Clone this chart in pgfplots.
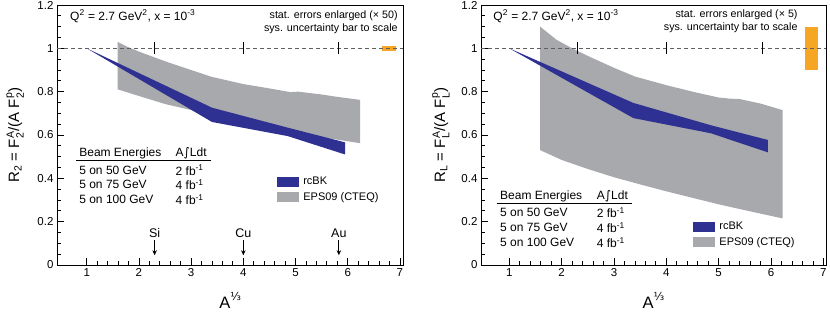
\documentclass[border=0pt]{standalone}
\usepackage{amsmath}
\usepackage{pgfplots}
\pgfplotsset{compat=1.18}
\usepackage{fontspec}
\setmainfont{Liberation Sans}
\newfontfamily\dejavu{DejaVu Sans}
\usetikzlibrary{arrows.meta}
\definecolor{rcblue}{RGB}{46,49,146}
\definecolor{bandgray}{RGB}{167,169,172}
\definecolor{orangebar}{RGB}{246,166,35}
\definecolor{dashcol}{RGB}{95,95,95}
\newcommand\fs[1]{\fontsize{#1bp}{#1bp}\selectfont}
\newcommand\supsub[2]{\ensuremath{^{\text{#1}}_{\text{#2}}}}
\pgfplotsset{myaxis/.style={
  scale only axis, height=260bp, ymin=0, ymax=1.2,
  xtick={1,2,3,4,5,6,7}, ytick={0,0.2,0.4,0.6,0.8,1,1.2},
  minor x tick num=4, minor y tick num=3,
  tick align=inside, tick pos=left,
  major tick length=7bp, minor tick length=4bp,
  axis line style={line width=0.8bp},
  tick style={line width=0.8bp, black},
  tick label style={font=\fs{11.5}},
  /pgf/number format/assume math mode=true,
  xlabel style={at={(axis description cs:0.5,-0.135)}, anchor=center, font=\fs{16.5}},
  ylabel style={anchor=center, font=\fs{15}},
  legend image code/.code={\fill[##1] (0bp,-4.5bp) rectangle (21bp,4.5bp);},
  legend style={draw=none, fill=none, inner sep=0pt, row sep=2.5bp, font=\fs{11},
    nodes={inner sep=2bp}, column sep=3bp},
  legend cell align=left}}
\begin{document}
\begin{tikzpicture}
\useasboundingbox (0,0) rectangle (830bp,317bp);
% ---------------- left panel ----------------
\begin{axis}[myaxis, at={(57bp,52bp)}, anchor=south west, width=346.3bp,
  xmin=0.43, xmax=7.065,
  xlabel={A\raisebox{0.5em}{\fs{11}\dejavu ⅓}},
  ylabel={R\textsubscript{2} = F\supsub{A}{2}/(A F\supsub{p}{2})},
  ylabel style={at={(axis description cs:-0.121,0.5)}},
  legend style={at={(0.6345,0.348)}, anchor=north west}]
\addplot[fill=bandgray, draw=none, forget plot] coordinates {
 (1.59,1.03) (1.8,1.005) (2.0,0.985) (2.3,0.958) (2.6,0.932) (3.0,0.9) (3.4,0.868)
 (4.0,0.835) (4.5,0.815) (4.9,0.798) (5.05,0.800) (5.5,0.787) (5.8,0.776) (6.24,0.762)
 (6.24,0.562) (5.5,0.59) (5.0,0.612) (4.5,0.635) (4.0,0.66) (3.5,0.69) (3.0,0.715)
 (2.5,0.743) (2.0,0.78) (1.59,0.811)};
\addplot[fill=rcblue, draw=none, forget plot] coordinates {
 (1,1) (3.4,0.726) (4.85,0.634) (5.95,0.566)
 (5.95,0.51) (4.85,0.595) (3.4,0.66)};
\addplot[fill=orangebar, draw=none, forget plot] coordinates {
 (6.65,0.987) (6.92,0.987) (6.92,1.013) (6.65,1.013)};
\addplot[dashcol, line width=1bp, dash pattern=on 4bp off 3bp, forget plot] coordinates {(0.43,1) (7.065,1)};
\addplot[black, line width=1.2bp, forget plot] coordinates {(2.3,0.973) (2.3,1.027)};
\addplot[black, line width=1.2bp, forget plot] coordinates {(4.0,0.973) (4.0,1.027)};
\addplot[black, line width=1.2bp, forget plot] coordinates {(5.83,0.973) (5.83,1.027)};
\addlegendimage{rcblue}\addlegendentry{rcBK}
\addlegendimage{bandgray}\addlegendentry{EPS09 (CTEQ)}
\node[anchor=west, font=\fs{12}, inner sep=0] at (axis cs:0.68,1.148) {Q\textsuperscript{2} = 2.7 GeV\textsuperscript{2}, x = 10\textsuperscript{-3}};
\node[anchor=east, font=\fs{10.7}, inner sep=0] at (axis cs:6.96,1.149) {stat. errors enlarged (× 50)};
\node[anchor=east, font=\fs{10.7}, inner sep=0] at (axis cs:6.96,1.092) {sys. uncertainty bar to scale};
% table
\node[anchor=west, font=\fs{12}, inner sep=0] at (axis cs:0.854,0.515) {Beam Energies};
\node[anchor=west, font=\fs{12}, inner sep=0] at (axis cs:2.70,0.515) {A{\dejavu ∫}Ldt};
\draw[line width=0.8bp] (axis cs:0.795,0.483) -- (axis cs:3.375,0.483);
\node[anchor=west, font=\fs{12}, inner sep=0] at (axis cs:0.854,0.438) {5 on 50 GeV};
\node[anchor=west, font=\fs{12}, inner sep=0] at (axis cs:0.854,0.372) {5 on 75 GeV};
\node[anchor=west, font=\fs{12}, inner sep=0] at (axis cs:0.854,0.303) {5 on 100 GeV};
\node[anchor=west, font=\fs{12}, inner sep=0] at (axis cs:2.70,0.438) {2 fb\textsuperscript{-1}};
\node[anchor=west, font=\fs{12}, inner sep=0] at (axis cs:2.70,0.372) {4 fb\textsuperscript{-1}};
\node[anchor=west, font=\fs{12}, inner sep=0] at (axis cs:2.70,0.303) {4 fb\textsuperscript{-1}};
% nuclei
\node[font=\fs{12.5}, inner sep=0] at (axis cs:2.3,0.146) {Si};
\node[font=\fs{12.5}, inner sep=0] at (axis cs:4.0,0.146) {Cu};
\node[font=\fs{12.5}, inner sep=0] at (axis cs:5.83,0.146) {Au};
\draw[-{Stealth[length=5bp,width=4.5bp]}, line width=0.8bp] (axis cs:2.3,0.115) -- (axis cs:2.3,0.045);
\draw[-{Stealth[length=5bp,width=4.5bp]}, line width=0.8bp] (axis cs:4.0,0.115) -- (axis cs:4.0,0.045);
\draw[-{Stealth[length=5bp,width=4.5bp]}, line width=0.8bp] (axis cs:5.83,0.115) -- (axis cs:5.83,0.045);
\end{axis}
% ---------------- right panel ----------------
\begin{axis}[myaxis, at={(481bp,52bp)}, anchor=south west, width=345bp,
  xmin=0.46, xmax=7.05,
  xlabel={A\raisebox{0.5em}{\fs{11}\dejavu ⅓}},
  ylabel={R\textsubscript{L} = F\supsub{A}{L}/(A F\supsub{p}{L})},
  ylabel style={at={(axis description cs:-0.116,0.5)}},
  legend style={at={(0.614,0.175)}, anchor=north west}]
\addplot[fill=bandgray, draw=none, forget plot] coordinates {
 (1.59,1.10) (1.9,1.04) (2.2,1.0) (2.5,0.965) (3.0,0.91) (3.4,0.87) (4.0,0.83)
 (4.5,0.80) (5.0,0.773) (5.2,0.768) (5.4,0.766) (5.8,0.745) (6.22,0.715)
 (6.22,0.215) (5.5,0.253) (5.0,0.28) (4.5,0.31) (4.0,0.34) (3.5,0.372) (3.0,0.405)
 (2.5,0.443) (2.0,0.485) (1.59,0.53)};
\addplot[fill=rcblue, draw=none, forget plot] coordinates {
 (1,1) (3.37,0.748) (4.85,0.645) (5.94,0.577)
 (5.94,0.52) (4.85,0.608) (3.37,0.678)};
\addplot[fill=orangebar, draw=none, forget plot] coordinates {
 (6.64,0.90) (6.90,0.90) (6.90,1.10) (6.64,1.10)};
\addplot[dashcol, line width=1bp, dash pattern=on 4bp off 3bp, forget plot] coordinates {(0.46,1) (7.05,1)};
\addplot[black, line width=1.2bp, forget plot] coordinates {(2.3,0.973) (2.3,1.027)};
\addplot[black, line width=1.2bp, forget plot] coordinates {(4.0,0.973) (4.0,1.027)};
\addplot[black, line width=1.2bp, forget plot] coordinates {(5.83,0.973) (5.83,1.027)};
\addlegendimage{rcblue}\addlegendentry{rcBK}
\addlegendimage{bandgray}\addlegendentry{EPS09 (CTEQ)}
\node[anchor=west, font=\fs{12}, inner sep=0] at (axis cs:0.694,1.148) {Q\textsuperscript{2} = 2.7 GeV\textsuperscript{2}, x = 10\textsuperscript{-3}};
\node[anchor=east, font=\fs{10.7}, inner sep=0] at (axis cs:6.51,1.157) {stat. errors enlarged (× 5)};
\node[anchor=east, font=\fs{10.7}, inner sep=0] at (axis cs:6.51,1.095) {sys. uncertainty bar to scale};
\node[anchor=west, font=\fs{12}, inner sep=0] at (axis cs:0.822,0.316) {Beam Energies};
\node[anchor=west, font=\fs{12}, inner sep=0] at (axis cs:2.67,0.316) {A{\dejavu ∫}Ldt};
\draw[line width=0.8bp] (axis cs:0.76,0.285) -- (axis cs:3.34,0.285);
\node[anchor=west, font=\fs{12}, inner sep=0] at (axis cs:0.822,0.242) {5 on 50 GeV};
\node[anchor=west, font=\fs{12}, inner sep=0] at (axis cs:0.822,0.173) {5 on 75 GeV};
\node[anchor=west, font=\fs{12}, inner sep=0] at (axis cs:0.822,0.103) {5 on 100 GeV};
\node[anchor=west, font=\fs{12}, inner sep=0] at (axis cs:2.67,0.242) {2 fb\textsuperscript{-1}};
\node[anchor=west, font=\fs{12}, inner sep=0] at (axis cs:2.67,0.173) {4 fb\textsuperscript{-1}};
\node[anchor=west, font=\fs{12}, inner sep=0] at (axis cs:2.67,0.103) {4 fb\textsuperscript{-1}};
\end{axis}
\end{tikzpicture}
\end{document}
